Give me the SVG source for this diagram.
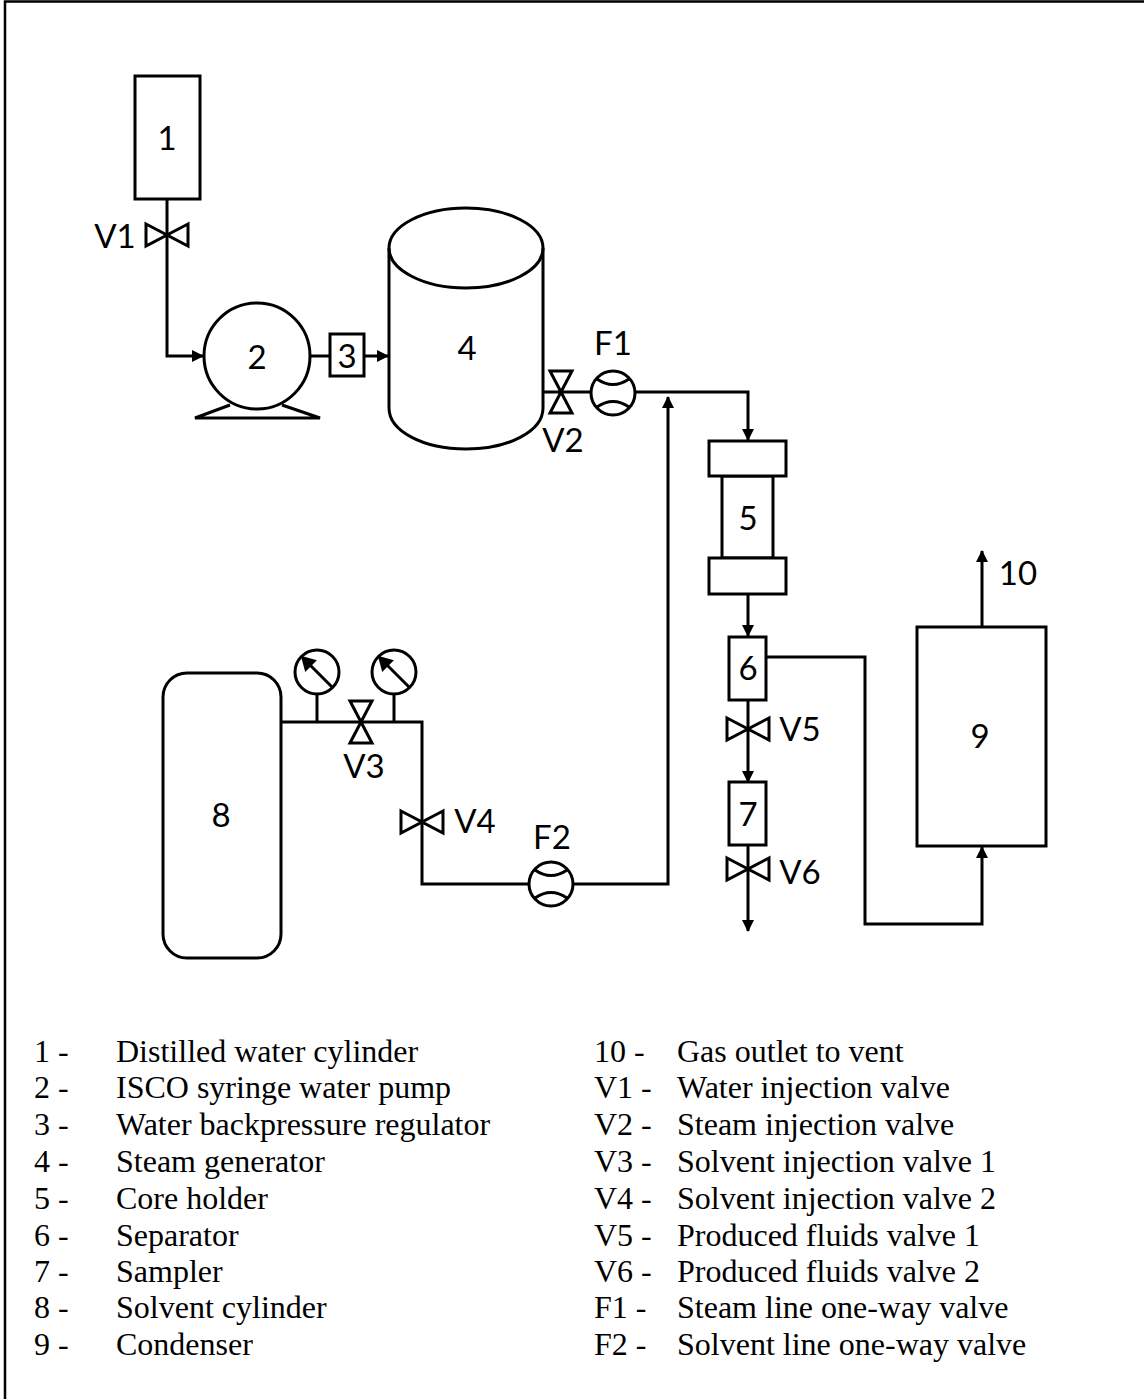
<svg xmlns="http://www.w3.org/2000/svg" width="1144" height="1399" viewBox="0 0 1144 1399">
<defs>
<marker id="ah" markerUnits="userSpaceOnUse" markerWidth="13" markerHeight="13" refX="11" refY="6" orient="auto"><path d="M0 0L12 6L0 12Z" fill="#000"/></marker>
<g id="vv"><path d="M-21 -11L0 0L-21 11ZM21 -11L0 0L21 11Z"/></g>
<g id="vh"><path d="M-11 -21L0 0L11 -21ZM-11 21L0 0L11 21Z"/></g>
<g id="flow"><circle r="22"/><path d="M-16 -14Q0 -3 16 -14M-16 14Q0 3 16 14"/></g>
<g id="gauge"><circle r="22"/><path d="M15 15L-10 -10"/><path d="M-14 -14L-11 -3L-3 -11Z" fill="#000"/></g>
</defs>
<style>
.s{fill:none;stroke:#000;stroke-width:3}
.w{fill:#fff;stroke:#000;stroke-width:3}
.t{font-family:"Lato","Open Sans",sans-serif;font-size:33px;fill:#000;text-anchor:middle}
.l{font-family:"Liberation Serif",serif;font-size:32px;fill:#000}
</style>
<rect width="1144" height="1399" fill="#fff"/>
<path id="frame" d="M5 1399V1.5H1144" fill="none" stroke="#000" stroke-width="2.5"/>
<g id="connectors" class="s">
<path d="M167 199V356H203" marker-end="url(#ah)"/>
<path d="M310 356H330"/>
<path d="M364 356H388" marker-end="url(#ah)"/>
<path d="M543 392H591"/>
<path d="M635 392H748V440" marker-end="url(#ah)"/>
<path d="M748 594V636" marker-end="url(#ah)"/>
<path d="M748 700V782" marker-end="url(#ah)"/>
<path d="M748 845V931" marker-end="url(#ah)"/>
<path d="M766 657H865V924H982V847" marker-end="url(#ah)"/>
<path d="M982 627V551" marker-end="url(#ah)"/>
<path d="M281 722H422V884H529"/>
<path d="M317 694V722M394 694V722"/>
<path d="M573 884H668V397" marker-end="url(#ah)"/>
</g>
<g id="n1"><rect class="w" x="135" y="76" width="65" height="123"/><text class="t" x="167" y="150">1</text></g>
<g id="v1" class="s"><use href="#vv" x="167" y="235"/><text class="t" x="115" y="248" stroke="none">V1</text></g>
<g id="n2"><path class="s" d="M230 405L195 418H320L282 405"/><circle class="w" cx="257" cy="356" r="53"/><text class="t" x="257" y="369">2</text></g>
<g id="n3"><rect class="w" x="330" y="334" width="34" height="42"/><text class="t" x="347" y="368">3</text></g>
<g id="n4"><path class="w" d="M389 248V408C389 431 423 449 466 449C509 449 543 431 543 408V248"/><ellipse class="s" cx="466" cy="248" rx="77" ry="40"/><text class="t" x="467" y="360">4</text></g>
<g id="v2" class="s"><use href="#vh" x="561" y="392"/><text class="t" x="563" y="452" stroke="none">V2</text></g>
<g id="f1" class="s"><use href="#flow" x="613" y="393"/><text class="t" x="613" y="355" stroke="none">F1</text></g>
<g id="n5"><rect class="w" x="722" y="476" width="51" height="82"/><rect class="w" x="709" y="441" width="77" height="35"/><rect class="w" x="709" y="558" width="77" height="36"/><text class="t" x="748" y="530">5</text></g>
<g id="n6"><rect class="w" x="729" y="637" width="37" height="63"/><text class="t" x="748" y="680">6</text></g>
<g id="v5" class="s"><use href="#vv" x="748" y="729"/><text class="t" x="800" y="741" stroke="none">V5</text></g>
<g id="n7"><rect class="w" x="729" y="782" width="37" height="63"/><text class="t" x="748" y="826">7</text></g>
<g id="v6" class="s"><use href="#vv" x="748" y="869"/><text class="t" x="800" y="884" stroke="none">V6</text></g>
<g id="n8"><rect class="w" x="163" y="673" width="118" height="285" rx="24"/><text class="t" x="221" y="827">8</text></g>
<g id="g1" class="s"><use href="#gauge" x="317" y="672"/></g>
<g id="g2" class="s"><use href="#gauge" x="394" y="672"/></g>
<g id="v3" class="s"><use href="#vh" x="361" y="722"/><text class="t" x="364" y="778" stroke="none">V3</text></g>
<g id="v4" class="s"><use href="#vv" x="422" y="822"/><text class="t" x="475" y="833" stroke="none">V4</text></g>
<g id="f2" class="s"><use href="#flow" x="551" y="884"/><text class="t" x="552" y="849" stroke="none">F2</text></g>
<g id="n9"><rect class="w" x="917" y="627" width="129" height="219"/><text class="t" x="980" y="748">9</text></g>
<text class="t" x="1018" y="585">10</text>
<g id="legend" class="l">
<text x="34" y="1062">1 -</text><text x="116" y="1062">Distilled water cylinder</text>
<text x="34" y="1098">2 -</text><text x="116" y="1098">ISCO syringe water pump</text>
<text x="34" y="1135">3 -</text><text x="116" y="1135">Water backpressure regulator</text>
<text x="34" y="1172">4 -</text><text x="116" y="1172">Steam generator</text>
<text x="34" y="1209">5 -</text><text x="116" y="1209">Core holder</text>
<text x="34" y="1246">6 -</text><text x="116" y="1246">Separator</text>
<text x="34" y="1282">7 -</text><text x="116" y="1282">Sampler</text>
<text x="34" y="1318">8 -</text><text x="116" y="1318">Solvent cylinder</text>
<text x="34" y="1355">9 -</text><text x="116" y="1355">Condenser</text>
<text x="594" y="1062">10 -</text><text x="677" y="1062">Gas outlet to vent</text>
<text x="594" y="1098">V1 -</text><text x="677" y="1098">Water injection valve</text>
<text x="594" y="1135">V2 -</text><text x="677" y="1135">Steam injection valve</text>
<text x="594" y="1172">V3 -</text><text x="677" y="1172">Solvent injection valve 1</text>
<text x="594" y="1209">V4 -</text><text x="677" y="1209">Solvent injection valve 2</text>
<text x="594" y="1246">V5 -</text><text x="677" y="1246">Produced fluids valve 1</text>
<text x="594" y="1282">V6 -</text><text x="677" y="1282">Produced fluids valve 2</text>
<text x="594" y="1318">F1 -</text><text x="677" y="1318">Steam line one-way valve</text>
<text x="594" y="1355">F2 -</text><text x="677" y="1355">Solvent line one-way valve</text>
</g>
</svg>
